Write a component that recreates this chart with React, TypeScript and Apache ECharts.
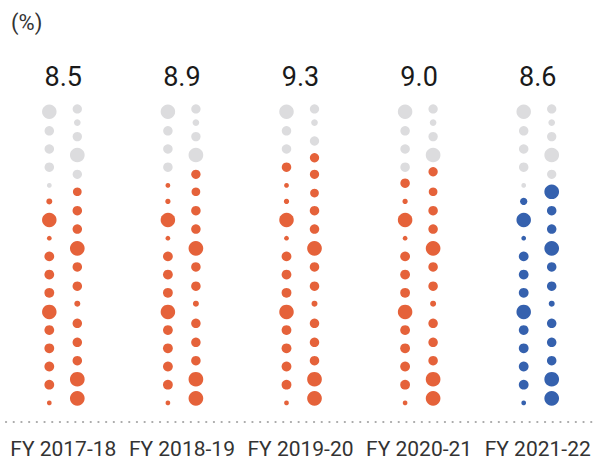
import React, { useEffect, useRef } from "react";
import * as echarts from "echarts";

// ---- data ----
const categories = ["FY 2017-18", "FY 2018-19", "FY 2019-20", "FY 2020-21", "FY 2021-22"];
const values = [8.5, 8.9, 9.3, 9.0, 8.6];
// number of filled (coloured) dots, counted from the bottom of each column
const leftFilled = [12, 13, 14, 13, 12];
const rightFilled = [12, 13, 14, 13, 12];
const highlightIndex = 4;

// dot pattern, listed top -> bottom (height in row units, diameter in px)
const leftRows = [17.05, 16, 15, 14, 13, 12.12, 11.1, 10.1, 9.1, 8.1, 7.1, 6.05, 5.05, 4.05, 3.05, 2.05, 1.05];
const leftSizes = [14.5, 9.5, 9.5, 9.5, 4.7, 6, 14.5, 4.7, 9.8, 9.8, 9.8, 14.5, 9.8, 9.8, 9.8, 9.8, 4.7];
const rightRows = [17.2, 16.45, 15.68, 14.67, 13.61, 12.65, 11.61, 10.6, 9.54, 8.52, 7.46, 6.5, 5.42, 4.38, 3.37, 2.35, 1.3];
const rightSizes = [9.3, 6.7, 9.3, 14.7, 9.3, 8.7, 9.5, 9.5, 14.7, 9.5, 9.5, 6, 9.5, 9.5, 9.5, 14.7, 14.7];
// per-group tweaks of the pattern: index -> {h, s}
const leftTweaks: Record<number, { h?: number; s?: number }>[] = [
  {},
  { 5: { s: 5.3 } },
  { 5: { s: 5.3 } },
  { 4: { h: 13.12, s: 9.5 }, 5: { s: 5.3 } },
  { 5: { s: 7.3 } },
];
const rightTweaks: Record<number, { h?: number; s?: number }>[] = [
  {},
  {},
  { 2: { h: 15.44 }, 3: { h: 14.52, s: 9.3 }, 5: { h: 12.58 } },
  { 4: { h: 13.75 } },
  { 5: { s: 14.7 } },
];

const GREY = "#dcdcde";
const ORANGE = "#e5623a";
const BLUE = "#3561ae";
const UNIT = 18.2;
const AXIS_Y = 422;

function buildColumn(
  rows: number[],
  sizes: number[],
  tweaks: Record<number, { h?: number; s?: number }>[],
  filled: number[]
) {
  const out: any[] = [];
  categories.forEach((_, g) => {
    const n = rows.length;
    rows.forEach((h0, i) => {
      const t = tweaks[g][i] || {};
      const h = t.h ?? h0;
      const s = t.s ?? sizes[i];
      const fromBottom = n - i;
      const on = fromBottom <= filled[g];
      const col = on ? (g === highlightIndex ? BLUE : ORANGE) : GREY;
      out.push({ value: [g, h], symbolSize: s, itemStyle: { color: col, opacity: 1 } });
    });
  });
  return out;
}

export default function App() {
  const ref = useRef<HTMLDivElement>(null);
  useEffect(() => {
    if (!ref.current) return;
    const chart = echarts.init(ref.current, undefined, { renderer: "svg" });
    const font = "Roboto, 'Noto Sans', sans-serif";
    chart.setOption({
      animation: false,
      backgroundColor: "#ffffff",
      title: {
        text: "(%)",
        left: 6,
        top: 6,
        textStyle: { fontSize: 22, fontWeight: "normal", color: "#333", fontFamily: font },
      },
      grid: { left: 4, width: 594, top: 0, height: AXIS_Y, containLabel: false },
      xAxis: {
        type: "category",
        data: categories,
        boundaryGap: true,
        axisTick: { show: false },
        axisLine: {
          show: true,
          lineStyle: { color: "#a8a8a8", width: 2.2, type: [0.1, 7.6], cap: "round", dashOffset: -2 },
        },
        axisLabel: { color: "#333", fontSize: 21, fontFamily: font, margin: 16, interval: 0 },
        splitLine: { show: false },
      },
      yAxis: {
        type: "value",
        min: 0,
        max: AXIS_Y / UNIT,
        show: false,
      },
      series: [
        {
          type: "scatter",
          symbol: "circle",
          symbolOffset: [-14, 0],
          itemStyle: { opacity: 1 },
          data: buildColumn(leftRows, leftSizes, leftTweaks, leftFilled),
          silent: true,
        },
        {
          type: "scatter",
          symbol: "circle",
          symbolOffset: [14, 0],
          itemStyle: { opacity: 1 },
          data: buildColumn(rightRows, rightSizes, rightTweaks, rightFilled),
          silent: true,
        },
        {
          type: "scatter",
          symbolSize: 0,
          itemStyle: { opacity: 1 },
          data: values.map((v, i) => [i, 18.94, v]),
          label: {
            show: true,
            position: "inside",
            formatter: (p: any) => Number(p.value[2]).toFixed(1),
            fontSize: 27,
            color: "#1a1a1a",
            opacity: 1,
            fontFamily: font,
          },
          silent: true,
        },
      ],
    });
    return () => chart.dispose();
  }, []);
  return (
    <div
      ref={ref}
      style={{ position: "absolute", left: 0, top: 0, width: 597, height: 472 }}
    />
  );
}
